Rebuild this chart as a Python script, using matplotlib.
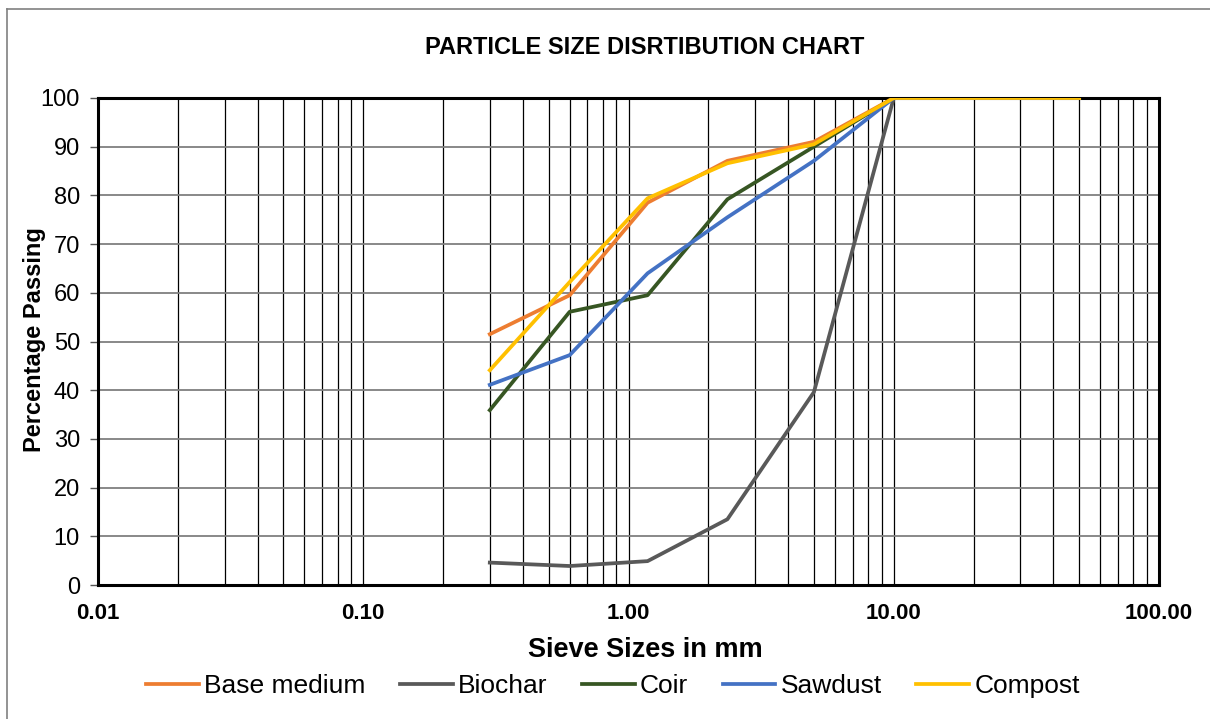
import matplotlib.pyplot as plt
from matplotlib.lines import Line2D
from matplotlib.ticker import FixedLocator, FixedFormatter, LogLocator, NullFormatter

plt.rcParams['font.family'] = ['Liberation Sans', 'DejaVu Sans']

# sieve sizes (mm)
sieve = [0.3, 0.6, 1.18, 2.36, 5.0, 10.0, 50.0]

base_medium = [51.5, 59.5, 78.5, 87.1, 91.0, 100, 100]
biochar = [4.6, 3.9, 4.9, 13.5, 39.6, 100, 100]
coir = [35.9, 56.1, 59.5, 79.2, 90.0, 100, 100]
sawdust = [41.1, 47.2, 64.0, 75.5, 87.1, 100, 100]
compost = [44.1, 62.2, 79.4, 86.6, 90.5, 100, 100]

names = ["Base medium", "Biochar", "Coir", "Sawdust", "Compost"]
colors = ["#ED7D31", "#595959", "#375623", "#4472C4", "#FFC000"]
series = [base_medium, biochar, coir, sawdust, compost]

xticks = [0.01, 0.1, 1, 10, 100]
xticklabels = ["0.01", "0.10", "1.00", "10.00", "100.00"]

fig = plt.figure(figsize=(12.1, 7.19), dpi=100)
ax = fig.add_axes([98/1210, 1-585/719, (1159-98)/1210, (585-98)/719])

for name, c, s in zip(names, colors, series):
    ax.plot(sieve, s, color=c, lw=2.7, label=name, zorder=3)

ax.set_xscale('log')
ax.set_xlim(0.01, 100)
ax.set_ylim(0, 100)
ax.xaxis.set_major_locator(FixedLocator(xticks))
ax.xaxis.set_major_formatter(FixedFormatter(xticklabels))
ax.xaxis.set_minor_locator(LogLocator(base=10, subs=range(2, 10)))
ax.xaxis.set_minor_formatter(NullFormatter())
ax.set_yticks(range(0, 101, 10))

ax.grid(True, which='both', axis='x', color='black', lw=0.9)
ax.grid(True, which='major', axis='y', color='#7f7f7f', lw=1.3)
ax.set_axisbelow(True)

for sp in ax.spines.values():
    sp.set_linewidth(2.2)
    sp.set_color('black')

ax.tick_params(axis='y', labelsize=17, length=6, width=1, color='#555555', pad=7)
ax.tick_params(axis='x', which='both', length=0, labelsize=16, pad=13)
for lab in ax.get_xticklabels():
    lab.set_fontweight('bold')

fig.text(645/1210, 1-48/719, "PARTICLE SIZE DISRTIBUTION CHART", ha='center', va='center',
         fontsize=17, fontweight='bold')
fig.text(645/1210, 1-650/719, "Sieve Sizes in mm", ha='center', va='center',
         fontsize=19.5, fontweight='bold')
fig.text(35/1210, 1-340/719, "Percentage Passing", ha='center', va='center',
         rotation=90, fontsize=17, fontweight='bold')

fig.legend(loc='center', bbox_to_anchor=(613/1210, 1-686/719), ncol=5, frameon=False,
           fontsize=19, handlelength=2.0, handletextpad=0.2, columnspacing=1.3)

# outer chart border (left and top)
fig.add_artist(Line2D([7/1210, 7/1210], [0, 1-9/719], color='#808080', lw=1.2))
fig.add_artist(Line2D([7/1210, 1], [1-9/719, 1-9/719], color='#808080', lw=1.2))

fig.savefig("out.png", dpi=100)
